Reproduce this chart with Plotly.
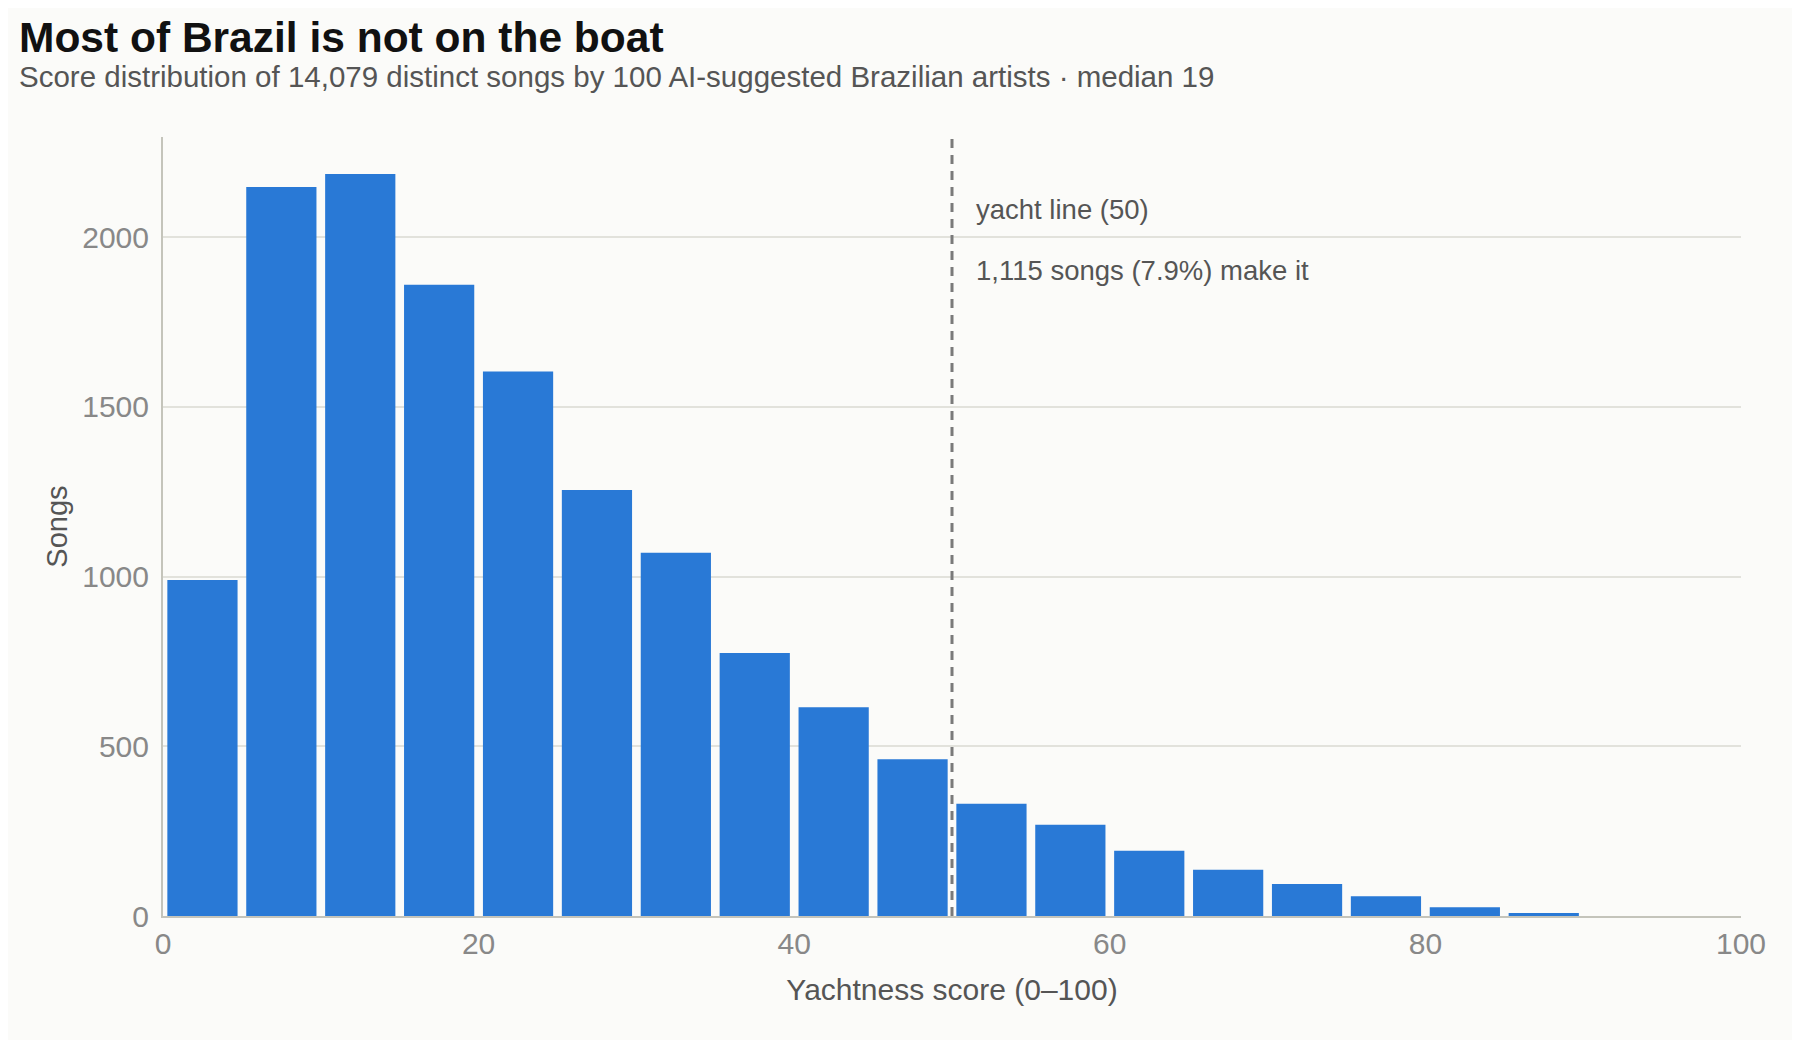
import plotly.graph_objects as go

# Histogram of yachtness scores, 5-point bins
bin_lo = [0, 5, 10, 15, 20, 25, 30, 35, 40, 45, 50, 55, 60, 65, 70, 75, 80, 85, 90, 95]
songs = [990, 2148, 2186, 1860, 1604, 1255, 1070, 775, 615, 462,
         331, 269, 192, 136, 94, 58, 26, 9, 0, 0]
bin_width = 5
yacht_line = 50
x_ticks = [0, 20, 40, 60, 80, 100]
y_ticks = [0, 500, 1000, 1500, 2000]

title = "Most of Brazil is not on the boat"
subtitle = "Score distribution of 14,079 distinct songs by 100 AI-suggested Brazilian artists · median 19"
note1 = "yacht line (50)"
note2 = "1,115 songs (7.9%) make it"

centers = [b + bin_width / 2 for b in bin_lo]

BG = "#fbfbf9"
FONT = "Liberation Sans, Arial, sans-serif"

fig = go.Figure()
fig.add_trace(go.Bar(x=centers, y=songs, marker_color="#2979d6",
                     marker_line_width=0, showlegend=False))

# dashed threshold line
fig.add_shape(type="line", x0=yacht_line, x1=yacht_line, xref="x",
              y0=0, y1=1, yref="paper",
              line=dict(color="#7a7a7a", width=3, dash="9px,7px"))

fig.add_annotation(x=yacht_line, y=2080, xref="x", yref="y", text=note1,
                   xanchor="left", yanchor="middle", xshift=22, showarrow=False,
                   font=dict(family=FONT, size=27.5, color="#555555"))
fig.add_annotation(x=yacht_line, y=1903, xref="x", yref="y", text=note2,
                   xanchor="left", yanchor="middle", xshift=22, showarrow=False,
                   font=dict(family=FONT, size=27.5, color="#555555"))

# title + subtitle, placed left of the plot area
fig.add_annotation(x=-0.0928, y=1.128, xref="paper", yref="paper",
                   text=f"<b>{title}</b>", xanchor="left", yanchor="middle",
                   showarrow=False, font=dict(family=FONT, size=42.5, color="#111111"))
fig.add_annotation(x=-0.0928, y=1.078, xref="paper", yref="paper",
                   text=subtitle, xanchor="left", yanchor="middle",
                   showarrow=False, font=dict(family=FONT, size=29.5, color="#555555"))

fig.update_layout(
    width=1800, height=1040,
    paper_bgcolor=BG, plot_bgcolor=BG,
    margin=dict(l=155, r=67, t=129, b=132),
    bargap=0.11,
    font=dict(family=FONT, color="#555555"),
    xaxis=dict(
        range=[0, 100], tickvals=x_ticks, showgrid=False, zeroline=False,
        showline=True, linecolor="#c4c4bb", linewidth=2, ticks="",
        tickfont=dict(size=30, color="#888888"),
        title=dict(text="Yachtness score (0–100)", font=dict(size=30, color="#555555"),
                   standoff=20),
    ),
    yaxis=dict(
        range=[0, 2295], tickvals=y_ticks, showgrid=True, gridcolor="#e2e2dc",
        gridwidth=1.5, zeroline=False, showline=True, linecolor="#c4c4bb",
        linewidth=2, ticks="", ticklabelstandoff=6,
        tickfont=dict(size=30, color="#888888"),
        title=dict(text="Songs", font=dict(size=29, color="#555555"), standoff=6),
    ),
)

fig.write_html("out.html")
